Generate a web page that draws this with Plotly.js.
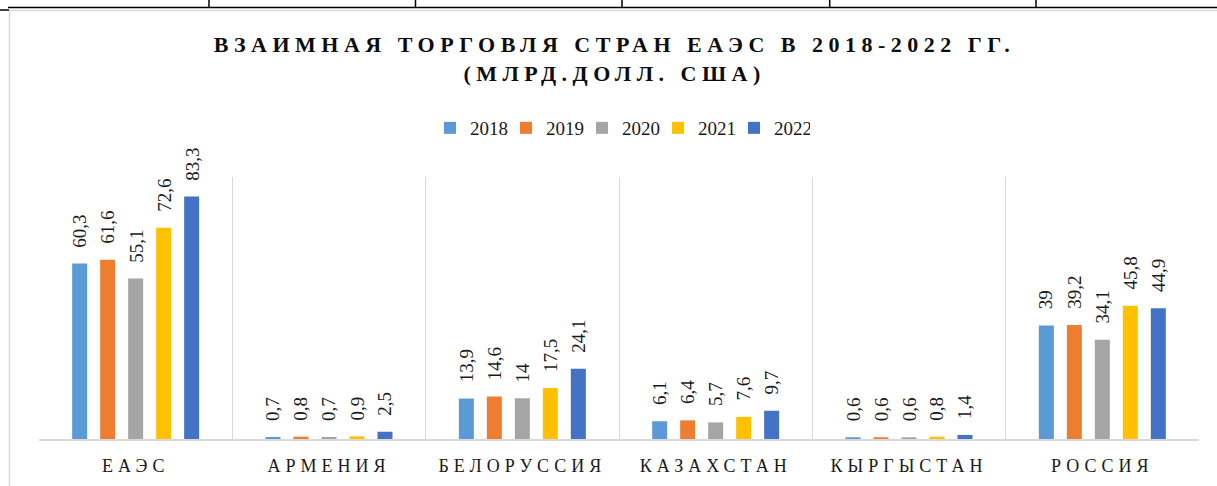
<!DOCTYPE html>
<html>
<head>
<meta charset="utf-8">
<script src="https://cdn.plot.ly/plotly-3.0.1.min.js"></script>
<style>
  html, body { margin: 0; padding: 0; background: #ffffff; }
  #chart { width: 1217px; height: 486px; }
</style>
</head>
<body>
<div id="chart"></div>
<script>
// ---- data ----
const categories = ['ЕАЭС', 'АРМЕНИЯ', 'БЕЛОРУССИЯ', 'КАЗАХСТАН', 'КЫРГЫСТАН', 'РОССИЯ'];
const years = ['2018', '2019', '2020', '2021', '2022'];
const values2018 = [60.3, 0.7, 13.9, 6.1, 0.6, 39];
const values2019 = [61.6, 0.8, 14.6, 6.4, 0.6, 39.2];
const values2020 = [55.1, 0.7, 14, 5.7, 0.6, 34.1];
const values2021 = [72.6, 0.9, 17.5, 7.6, 0.8, 45.8];
const values2022 = [83.3, 2.5, 24.1, 9.7, 1.4, 44.9];
const seriesValues = [values2018, values2019, values2020, values2021, values2022];
const colors = ['#5B9BD5', '#ED7D31', '#A5A5A5', '#FFC000', '#4472C4'];
const titleText = 'ВЗАИМНАЯ ТОРГОВЛЯ СТРАН ЕАЭС В 2018-2022 ГГ.<br>(МЛРД.ДОЛЛ. США)';

const serif = 'Liberation Serif';

const traces = years.map((yr, i) => ({
  type: 'bar',
  name: yr,
  x: categories,
  y: seriesValues[i],
  marker: { color: colors[i] },
  hoverinfo: 'none'
}));

// data labels (rotated), placed above each bar
const slot = 28;
const annotations = [];
years.forEach((yr, i) => {
  seriesValues[i].forEach((v, j) => {
    annotations.push({
      x: categories[j],
      y: v,
      xref: 'x', yref: 'y',
      text: String(v).replace('.', ','),
      showarrow: false,
      textangle: -90,
      xanchor: 'center',
      yanchor: 'bottom',
      xshift: (i - 2) * slot,
      yshift: 14,
      font: { family: serif, size: 19, color: '#1a1a1a' }
    });
  });
});

// page decorations: table border lines and chart frame (paper coords)
const L = 39, R = 18, T = 177, B = 47, W = 1217, H = 486;
const pw = W - L - R, ph = H - T - B;
const px = x => (x - L) / pw;
const py = y => (H - B - y) / ph;
const shapes = [];
// chart frame (light gray)
shapes.push({ type: 'line', xref: 'paper', yref: 'paper', x0: px(9.5), x1: px(9.5), y0: py(10), y1: py(486), line: { color: '#d9d9d9', width: 1.5 } });
shapes.push({ type: 'line', xref: 'paper', yref: 'paper', x0: px(9.5), x1: px(1217), y0: py(10.5), y1: py(10.5), line: { color: '#d9d9d9', width: 1.5 } });
// table border (black)
shapes.push({ type: 'line', xref: 'paper', yref: 'paper', x0: px(8), x1: px(1217), y0: py(7.5), y1: py(7.5), line: { color: '#000000', width: 1.5 } });
shapes.push({ type: 'line', xref: 'paper', yref: 'paper', x0: px(0), x1: px(9), y0: py(10), y1: py(10), line: { color: '#000000', width: 1.5 } });
[209, 415.5, 622, 829.7, 1036].forEach(x => {
  shapes.push({ type: 'line', xref: 'paper', yref: 'paper', x0: px(x), x1: px(x), y0: py(0), y1: py(7.5), line: { color: '#000000', width: 1.5 } });
});

const layout = {
  width: W, height: H,
  margin: { l: L, r: R, t: T, b: B, pad: 0 },
  paper_bgcolor: '#ffffff',
  plot_bgcolor: '#ffffff',
  title: {
    text: titleText,
    font: { family: serif, size: 22, color: '#0d0d0d', weight: 'bold' },
    x: 0.505, xanchor: 'center',
    y: 1 - 52 / H, yanchor: 'top', yref: 'container'
  },
  showlegend: true,
  legend: {
    orientation: 'h',
    x: px(620), xanchor: 'center',
    y: py(128), yanchor: 'middle',
    font: { family: serif, size: 19, color: '#1a1a1a' },
    entrywidth: 31,
    entrywidthmode: 'pixels',
    bgcolor: 'rgba(0,0,0,0)'
  },
  barmode: 'group',
  bargap: 0.276,
  bargroupgap: 0.464,
  xaxis: {
    type: 'category',
    tickson: 'boundaries',
    showgrid: true,
    gridcolor: '#d9d9d9',
    gridwidth: 1,
    showline: true,
    linecolor: '#d9d9d9',
    linewidth: 1.5,
    ticks: '',
    ticklabelstandoff: 10,
    tickfont: { family: serif, size: 18, color: '#1a1a1a' },
    fixedrange: true
  },
  yaxis: {
    range: [0, 90],
    visible: false,
    showgrid: false,
    zeroline: false,
    fixedrange: true
  },
  annotations: annotations,
  shapes: shapes
};

function spacing() {
  document.querySelectorAll('.gtitle').forEach(e => e.style.letterSpacing = '5.5px');
  document.querySelectorAll('.xtick text').forEach(e => e.style.letterSpacing = '5px');
}

Plotly.newPlot('chart', traces, layout, { displayModeBar: false, staticPlot: true }).then(gd => {
  spacing();
  gd.on('plotly_afterplot', spacing);
});
</script>
</body>
</html>
